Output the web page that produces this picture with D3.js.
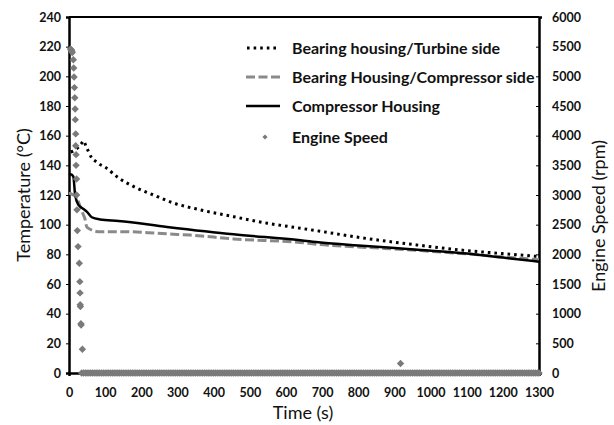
<!DOCTYPE html>
<html><head><meta charset="utf-8">
<script src="https://cdn.jsdelivr.net/npm/d3@7/dist/d3.min.js"></script>
<style>body{margin:0;background:#fff}svg{display:block}</style>
</head><body>
<svg id="c" width="614" height="425"></svg>
<script>
// ---------- data ----------
const xTicks = [0,100,200,300,400,500,600,700,800,900,1000,1100,1200,1300];
const yTicksT = [0,20,40,60,80,100,120,140,160,180,200,220,240];
const yTicksR = [0,500,1000,1500,2000,2500,3000,3500,4000,4500,5000,5500,6000];
const seriesNames = ["Bearing housing/Turbine side","Bearing Housing/Compressor side","Compressor Housing","Engine Speed"];

const turbineTime = [5,15,25,35,40,47,63,75,86,100,137,178,234,289,363,455,548,640,696,800,973,1100,1200,1300];
const turbineTemp = [149,150,152,155,156.5,153,145,142.5,140.5,138.7,131.5,125.8,120,114.6,110,105.4,101,97.6,95.5,91.5,86,82.5,80.5,78.5];

const compSideTime = [0,3,12,21,26,40,44,49,54,67,86,114,150,243,271,335,455,640,696,800,973,1100,1200,1300];
const compSideTemp = [121,121,120,118.9,115.5,106.5,104,98.6,97.5,96,95.2,95.3,95.3,94.2,93.8,93,90.4,88,86.6,85,82.5,80.3,78.3,76.4];

const compHouseTime = [0,5,12,17,26,40,49,63,86,137,271,455,640,696,800,973,1100,1200,1300];
const compHouseTemp = [133.5,134,132.4,120,113.3,110.6,108.8,105,103.5,102.5,98.5,93.5,89.5,88,86,83,80.5,77.8,75];

// engine speed: run-down samples, then the 0 rpm samples, then one stray sample
const speedTime = [4,6,7,8,9,12,13,14,15,16,17,17.5,18.5,18.5,19.5,19.5,21,21,22,23,25,28.5,30,30.5,31,31.5,33,33.5,37,
  35,40,45,50,55,60,65,70,75,80,85,90,95,100,105,110,115,120,125,130,135,140,145,150,155,160,165,170,175,180,
  185,190,195,200,205,210,215,220,225,230,235,240,245,250,255,260,265,270,275,280,285,290,295,300,305,310,
  315,320,325,330,335,340,345,350,355,360,365,370,375,380,385,390,395,400,405,410,415,420,425,430,435,440,
  445,450,455,460,465,470,475,480,485,490,495,500,505,510,515,520,525,530,535,540,545,550,555,560,565,570,
  575,580,585,590,595,600,605,610,615,620,625,630,635,640,645,650,655,660,665,670,675,680,685,690,695,700,
  705,710,715,720,725,730,735,740,745,750,755,760,765,770,775,780,785,790,795,800,805,810,815,820,825,830,
  835,840,845,850,855,860,865,870,875,880,885,890,895,900,905,910,915,920,925,930,935,940,945,950,955,960,
  965,970,975,980,985,990,995,1000,1005,1010,1015,1020,1025,1030,1035,1040,1045,1050,1055,1060,1065,1070,
  1075,1080,1085,1090,1095,1100,1105,1110,1115,1120,1125,1130,1135,1140,1145,1150,1155,1160,1165,1170,1175,
  1180,1185,1190,1195,1200,1205,1210,1215,1220,1225,1230,1235,1240,1245,1250,1255,1260,1265,1270,1275,1280,
  1285,1290,1295,1300,
  917];
const speedRpm = [5460,5450,5440,5420,5400,5280,5140,4990,4810,4640,4450,4270,4030,3830,3680,3500,3270,3000,2750,2400,2130,1850,1540,1350,1150,1120,830,810,400,
  0,0,0,0,0,0,0,0,0,0,0,0,0,0,0,0,0,0,0,0,0,0,0,0,0,0,0,0,0,0,
  0,0,0,0,0,0,0,0,0,0,0,0,0,0,0,0,0,0,0,0,0,0,0,0,0,0,0,0,0,0,
  0,0,0,0,0,0,0,0,0,0,0,0,0,0,0,0,0,0,0,0,0,0,0,0,0,0,0,0,0,0,
  0,0,0,0,0,0,0,0,0,0,0,0,0,0,0,0,0,0,0,0,0,0,0,0,0,0,0,0,0,0,
  0,0,0,0,0,0,0,0,0,0,0,0,0,0,0,0,0,0,0,0,0,0,0,0,0,0,0,0,0,0,
  0,0,0,0,0,0,0,0,0,0,0,0,0,0,0,0,0,0,0,0,0,0,0,0,0,0,0,0,0,0,
  0,0,0,0,0,0,0,0,0,0,0,0,0,0,0,0,0,0,0,0,0,0,0,0,0,0,0,0,0,0,
  0,0,0,0,0,0,0,0,0,0,0,0,0,0,0,0,0,0,0,0,0,0,0,0,0,0,0,0,0,0,
  0,0,0,0,0,0,0,0,0,0,0,0,0,0,
  160];

// ---------- layout ----------
const L = 69, R = 539, T = 17, B = 373;
const svg = d3.select("#c");
const x = d3.scaleLinear().domain([0,1300]).range([L,R]);
const yT = d3.scaleLinear().domain([0,240]).range([B,T]);
const yR = d3.scaleLinear().domain([0,6000]).range([B,T]);
const font = "Lato, 'Open Sans', sans-serif";

// frame top
svg.append("line").attr("x1",L).attr("x2",R).attr("y1",T).attr("y2",T).attr("stroke","#000").attr("stroke-width",2);

// axes
const fmt = d3.format("d");
const axL = d3.axisLeft(yT).tickValues(yTicksT).tickFormat(fmt).tickSize(3).tickPadding(5);
const axR = d3.axisRight(yR).tickValues(yTicksR).tickFormat(fmt).tickSize(3).tickPadding(11);
const axB = d3.axisBottom(x).tickValues(xTicks).tickFormat(fmt).tickSize(3).tickPadding(12);
function style(g){
  g.select(".domain").attr("stroke","#000").attr("stroke-width",2.5);
  g.selectAll(".tick line").attr("stroke","#000");
  g.selectAll(".tick text").attr("font-family",font).attr("font-weight","bold").attr("font-size","12.5px").attr("fill","#111");
}
svg.append("g").attr("transform",`translate(${L},0)`).call(axL).call(style);
svg.append("g").attr("transform",`translate(${R},0)`).call(axR).call(style)
  .call(g=>g.selectAll(".tick line").attr("x2",-3)).call(g=>g.selectAll(".tick text").attr("x",13));
svg.append("g").attr("transform",`translate(0,${B})`).call(axB).call(style);

// lines
const zip = (a,b)=>a.map((v,i)=>[v,b[i]]);
const line = d3.line().x(d=>x(d[0])).y(d=>yT(d[1])).curve(d3.curveMonotoneX);
svg.append("path").datum(zip(turbineTime,turbineTemp)).attr("d",line)
  .attr("fill","none").attr("stroke","#000").attr("stroke-width",3).attr("stroke-dasharray","2.6,4");
svg.append("path").datum(zip(compSideTime,compSideTemp)).attr("d",line)
  .attr("fill","none").attr("stroke","#8a8a8a").attr("stroke-width",3).attr("stroke-dasharray","9,3.5");
svg.append("path").datum(zip(compHouseTime,compHouseTemp)).attr("d",line)
  .attr("fill","none").attr("stroke","#000").attr("stroke-width",2.5);

// engine speed diamonds
const dia = "M0,-3.7L3.7,0L0,3.7L-3.7,0Z";
svg.append("g").selectAll("path").data(zip(speedTime,speedRpm)).join("path")
  .attr("d",dia).attr("transform",d=>`translate(${x(d[0])},${yR(d[1])})`)
  .attr("fill","#7a7a7a");

// axis titles
svg.append("text").attr("transform","translate(30,195) rotate(-90)").attr("text-anchor","middle")
  .attr("font-family",font).attr("font-size","18px").attr("fill","#111").text("Temperature (°C)");
svg.append("text").attr("transform","translate(605,216) rotate(-90)").attr("text-anchor","middle")
  .attr("font-family",font).attr("font-size","18px").attr("fill","#111").text("Engine Speed (rpm)");
svg.append("text").attr("x",303).attr("y",419).attr("text-anchor","middle")
  .attr("font-family",font).attr("font-size","18px").attr("fill","#111").text("Time (s)");

// legend
const legY = [48,77,106,137];
const lg = svg.append("g");
lg.append("line").attr("x1",247).attr("x2",280).attr("y1",legY[0]).attr("y2",legY[0])
  .attr("stroke","#000").attr("stroke-width",3).attr("stroke-dasharray","2.6,4");
lg.append("line").attr("x1",246).attr("x2",280).attr("y1",legY[1]).attr("y2",legY[1])
  .attr("stroke","#8a8a8a").attr("stroke-width",3).attr("stroke-dasharray","9,3.5");
lg.append("line").attr("x1",246).attr("x2",280).attr("y1",legY[2]).attr("y2",legY[2])
  .attr("stroke","#000").attr("stroke-width",2.5);
lg.append("path").attr("d","M0,-2.6L2.6,0L0,2.6L-2.6,0Z").attr("transform",`translate(265,${legY[3]})`).attr("fill","#7a7a7a");
lg.selectAll("text").data(seriesNames).join("text")
  .attr("x",292).attr("y",(d,i)=>legY[i]+5.5)
  .attr("font-family",font).attr("font-weight","bold").attr("font-size","16px").attr("fill","#111")
  .text(d=>d);
</script>
</body></html>
